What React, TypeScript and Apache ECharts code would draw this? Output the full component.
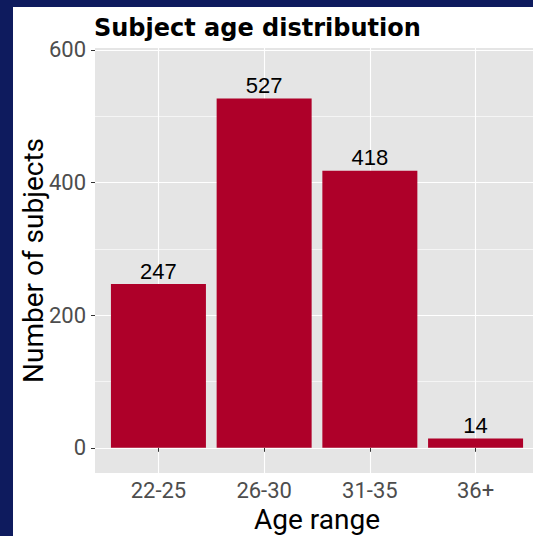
import React, { useEffect, useRef } from "react";
import * as echarts from "echarts";

const categories = ["22-25", "26-30", "31-35", "36+"];
const counts = [247, 527, 418, 14];
const yTickValues = [0, 200, 400, 600];
const yMinorValues = [100, 300, 500];

const NAVY = "#0e1b5e";
const BAR = "#ae0029";

export default function App() {
  const ref = useRef<HTMLDivElement>(null);
  useEffect(() => {
    const chart = echarts.init(ref.current!, null, { renderer: "svg" });
    const xPositions = categories.map((_, i) => i + 1);
    const data = counts.map((v, i) => [xPositions[i], v]);
    chart.setOption({
      animation: false,
      backgroundColor: "#ffffff",
      title: {
        text: "Subject age distribution",
        left: 81,
        top: 9,
        padding: 0,
        textStyle: {
          fontFamily: "DejaVu Sans",
          fontWeight: "bold",
          fontSize: 24,
          color: "#000000",
        },
      },
      grid: {
        left: 82,
        top: 41,
        width: 444,
        height: 425,
        show: true,
        backgroundColor: "#e5e5e5",
        borderWidth: 0,
        containLabel: false,
        outerBoundsMode: "none",
      },
      xAxis: {
        type: "value",
        min: 0.4,
        max: 4.6,
        axisLine: { show: false },
        axisTick: {
          show: true,
          customValues: xPositions,
          length: 4,
          lineStyle: { color: "#333333", width: 1 },
        },
        axisLabel: {
          customValues: xPositions,
          formatter: (v: number) => categories[Math.round(v) - 1] ?? "",
          fontFamily: "Roboto",
          fontSize: 22,
          color: "#4d4d4d",
          margin: 6,
        },
        splitLine: { show: true, lineStyle: { color: "#ffffff", width: 1.1 } },
        name: "Age range",
        nameLocation: "middle",
        nameGap: 31,
        nameTextStyle: { fontFamily: "Roboto", fontSize: 28, color: "#000000" },
      },
      yAxis: [
        {
          type: "value",
          min: -38,
          max: 603,
          axisLine: { show: false },
          axisTick: {
            show: true,
            customValues: yTickValues,
            length: 4,
            lineStyle: { color: "#333333", width: 1 },
          },
          axisLabel: {
            customValues: yTickValues,
            fontFamily: "Roboto",
            fontSize: 22,
            color: "#4d4d4d",
            margin: 9,
          },
          splitLine: { show: true, lineStyle: { color: "#ffffff", width: 1.1 } },
          name: "Number of subjects",
          nameLocation: "middle",
          nameMoveOverlap: false,
          nameGap: 48,
          nameTextStyle: { fontFamily: "Roboto", fontSize: 28, color: "#000000" },
        },
        {
          type: "value",
          min: -38,
          max: 603,
          position: "left",
          axisLine: { show: false },
          axisTick: { show: false, customValues: yMinorValues },
          axisLabel: { show: false },
          splitLine: { show: true, lineStyle: { color: "#ffffff", width: 0.6 } },
        },
      ],
      series: [
        {
          type: "bar",
          yAxisIndex: 0,
          data,
          barWidth: 95,
          itemStyle: { color: BAR },
          label: {
            show: true,
            position: "top",
            distance: 2,
            fontFamily: "Liberation Sans",
            fontSize: 22,
            color: "#000000",
          },
        },
      ],
    });
    return () => chart.dispose();
  }, []);
  return (
    <div
      style={{
        position: "fixed",
        left: 0,
        top: 0,
        width: 533,
        height: 536,
        background: NAVY,
        overflow: "hidden",
      }}
    >
      <div
        ref={ref}
        style={{ position: "absolute", left: 13, top: 7, width: 520, height: 529 }}
      />
    </div>
  );
}
